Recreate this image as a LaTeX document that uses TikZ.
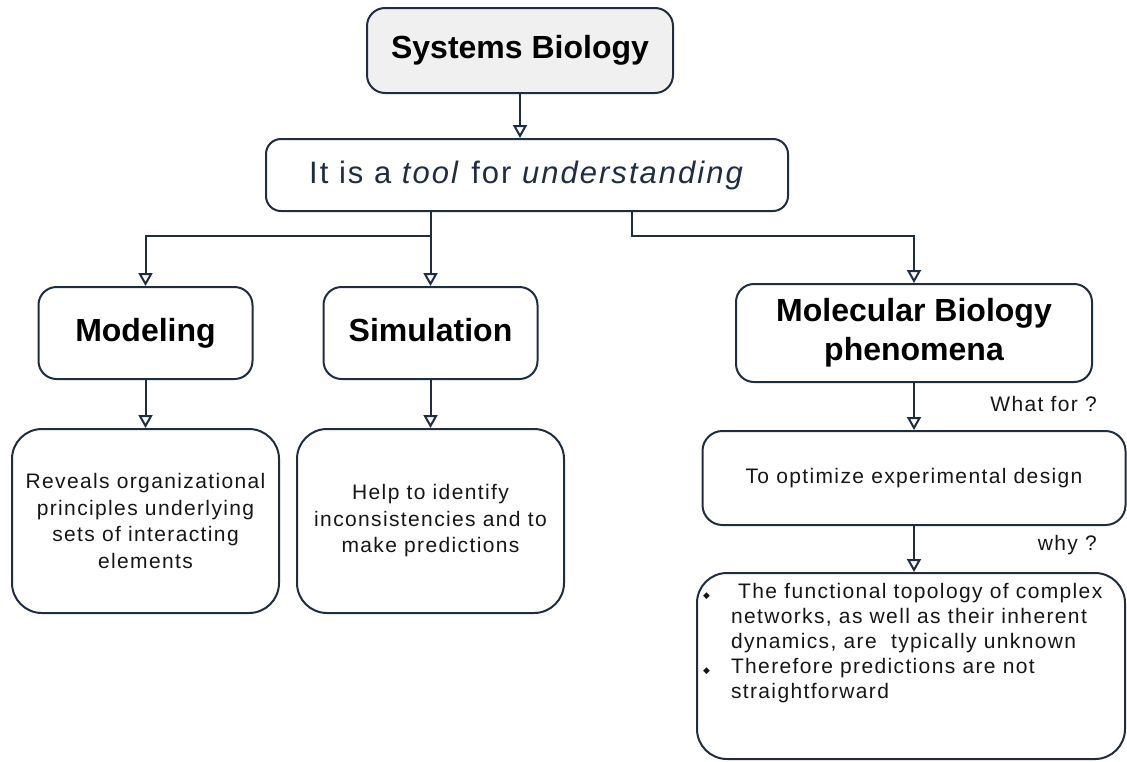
\documentclass[tikz,border=0pt]{standalone}
\usepackage{fontspec}
\setmainfont{Liberation Sans}
\newfontfamily\widefont{Liberation Sans}[LetterSpace=6.5]
\newfontfamily\symbolfont{DejaVu Sans}
\usepackage{tikz}
\usetikzlibrary{arrows.meta,positioning}
\definecolor{linenavy}{RGB}{31,45,66}
\definecolor{textgray}{RGB}{22,22,22}
\newcommand{\bul}{\makebox[28pt][l]{\symbolfont\fontsize{9}{9}\selectfont ◆}}
\tikzset{
    %Define standard arrow tip
    >={Triangle[open,length=13pt,width=14pt]},
    %Define style for boxes
    titlebox/.style={
           rectangle,
           rounded corners=18pt,
           draw=linenavy, line width=2pt,
           fill=black!6,
           minimum width=306pt,
           minimum height=85pt,
           font=\fontsize{32}{38}\selectfont\bfseries,
           text centered},
    toolbox/.style={
           rectangle,
           rounded corners=15pt,
           draw=linenavy, line width=2pt,
           minimum width=522pt,
           minimum height=72pt,
           font=\widefont\fontsize{31}{37}\selectfont,
           text=linenavy,
           text centered},
    branchbox/.style={
           rectangle,
           rounded corners=18pt,
           draw=linenavy, line width=2pt,
           minimum width=214pt,
           minimum height=92pt,
           font=\fontsize{32}{39}\selectfont\bfseries,
           align=center},
    notebox/.style={
           rectangle,
           rounded corners=30pt,
           draw=linenavy, line width=2pt,
           minimum width=267pt,
           minimum height=184pt,
           font=\widefont\fontsize{21}{26.5}\selectfont,
           text=textgray,
           align=center},
    aimbox/.style={
           rectangle,
           rounded corners=20pt,
           draw=linenavy, line width=2pt,
           minimum width=423pt,
           minimum height=94pt,
           font=\widefont\fontsize{21}{26.5}\selectfont,
           text=textgray,
           text centered},
    reasonbox/.style={
           rectangle,
           rounded corners=30pt,
           draw=linenavy, line width=2pt,
           inner xsep=6pt, inner ysep=6pt,
           font=\widefont\fontsize{21}{25}\selectfont,
           text=textgray},
    asklabel/.style={
           anchor=base east,
           inner sep=0pt,
           font=\widefont\fontsize{21}{25}\selectfont,
           text=textgray},
    % Define arrow style
    pointer/.style={
           ->,
           draw=linenavy,
           line width=2pt},
    link/.style={
           draw=linenavy,
           line width=2pt}
}

\begin{document}
\begin{tikzpicture}[x=1pt,y=1pt]
\useasboundingbox (0,0) rectangle (1127,-761);
 %nodes
\node[titlebox] (sb) at (520,-50.5) {Systems Biology};
\node[toolbox, below=44pt of sb, xshift=7pt] (tool) {It is a \textit{tool} for \textit{understanding}};
\node[branchbox, text height=24pt, text depth=7pt] (model) at (145.5,-333) {Modeling};
\node[branchbox, text height=24pt, text depth=7pt, right=69pt of model] (sim) {Simulation};
\node[branchbox, minimum width=356pt, minimum height=98pt] (mol) at (914,-333) {Molecular Biology\\phenomena};
\node[notebox, below=48pt of model] (reveal) {Reveals organizational\\principles underlying\\sets of interacting\\elements};
\node[notebox, below=48pt of sim] (help) {Help to identify\\inconsistencies and to\\make predictions};
\node[aimbox, below=47pt of mol] (aim) {To optimize experimental design};
\node[reasonbox, below=46pt of aim, xshift=-3pt] (reason) {\begin{minipage}[c][174pt][t]{416pt}\raggedright
\vspace*{4pt}
\bul\ The functional topology of complex\\
\hspace*{28pt}networks, as well as their inherent\\
\hspace*{28pt}dynamics, are\ \ typically unknown\\
\bul Therefore predictions are not\\
\hspace*{28pt}straightforward
\end{minipage}};
\node[asklabel] (whatfor) at (1097,-411) {What for ?};
\node[asklabel] (why) at (1097,-550) {why ?};
 %connectors
\coordinate (rfork) at (632,-236);
\coordinate (lfork) at (sim.north |- rfork);
\draw[pointer] (sb) -- (sb |- tool.north);
\draw[link] (tool.south -| lfork) -- (lfork);
\draw[pointer] (lfork) -| (model.north);
\draw[pointer] (lfork) -- (sim.north);
\draw[pointer] (tool.south -| rfork) -- (rfork) -| (mol.north);
\draw[pointer] (model) -- (reveal);
\draw[pointer] (sim) -- (help);
\draw[pointer] (mol) -- (aim);
\draw[pointer] (aim) -- (aim |- reason.north);
\end{tikzpicture}
\end{document}
